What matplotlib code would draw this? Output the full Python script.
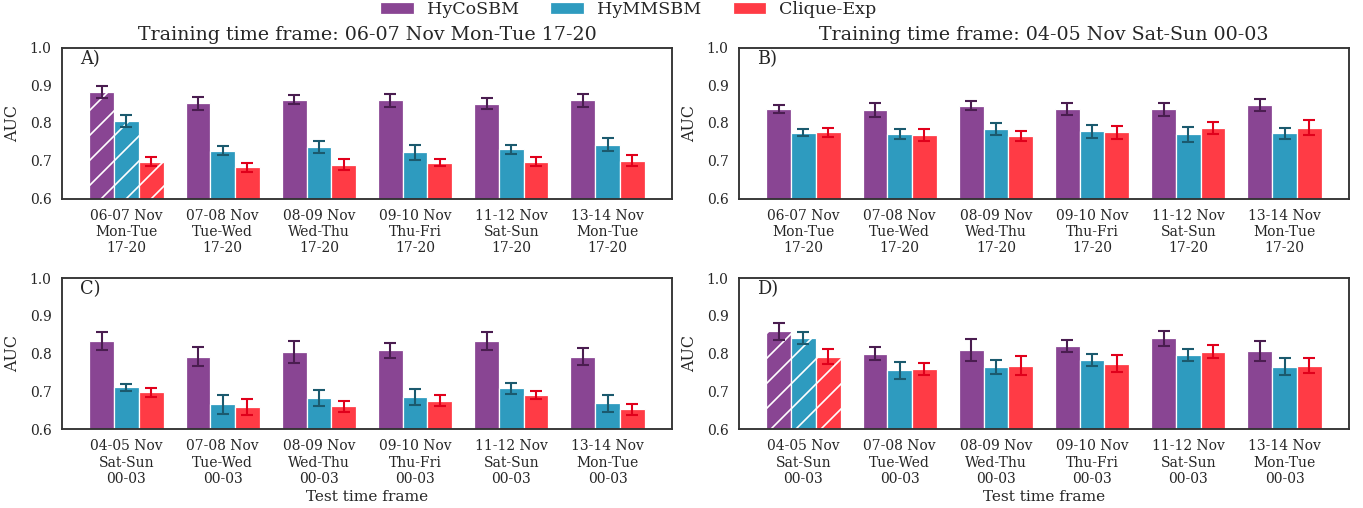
import numpy as np
import matplotlib
matplotlib.use("Agg")
import matplotlib.pyplot as plt
from matplotlib.patches import Patch

# ---- data ----
methods = ["HyCoSBM", "HyMMSBM", "Clique-Exp"]
colors = ["#894593", "#2e9bbf", "#ff3b45"]
err_colors = ["#4a1d50", "#1b5a6e", "#e0001b"]

top_ticks = ["06-07 Nov\nMon-Tue\n17-20", "07-08 Nov\nTue-Wed\n17-20",
             "08-09 Nov\nWed-Thu\n17-20", "09-10 Nov\nThu-Fri\n17-20",
             "11-12 Nov\nSat-Sun\n17-20", "13-14 Nov\nMon-Tue\n17-20"]
bottom_ticks = ["04-05 Nov\nSat-Sun\n00-03", "07-08 Nov\nTue-Wed\n00-03",
                "08-09 Nov\nWed-Thu\n00-03", "09-10 Nov\nThu-Fri\n00-03",
                "11-12 Nov\nSat-Sun\n00-03", "13-14 Nov\nMon-Tue\n00-03"]

# panel A: train 06-07 Nov Mon-Tue 17-20
a_hyco = [0.882, 0.852, 0.862, 0.860, 0.851, 0.860]
a_hymm = [0.805, 0.727, 0.736, 0.722, 0.730, 0.743]
a_clq = [0.698, 0.683, 0.690, 0.695, 0.698, 0.700]
a_hyco_err = [0.015, 0.017, 0.012, 0.018, 0.015, 0.018]
a_hymm_err = [0.016, 0.013, 0.016, 0.020, 0.013, 0.018]
a_clq_err = [0.011, 0.012, 0.014, 0.010, 0.012, 0.015]

# panel B: train 04-05 Nov Sat-Sun 00-03
b_hyco = [0.837, 0.834, 0.846, 0.836, 0.836, 0.848]
b_hymm = [0.774, 0.771, 0.784, 0.778, 0.770, 0.773]
b_clq = [0.776, 0.767, 0.765, 0.775, 0.787, 0.787]
b_hyco_err = [0.010, 0.018, 0.011, 0.016, 0.018, 0.015]
b_hymm_err = [0.009, 0.014, 0.016, 0.018, 0.020, 0.015]
b_clq_err = [0.012, 0.016, 0.013, 0.018, 0.015, 0.020]

# panel C: train 06-07 Nov Mon-Tue 17-20, tested on 00-03
c_hyco = [0.833, 0.792, 0.803, 0.808, 0.833, 0.792]
c_hymm = [0.710, 0.665, 0.682, 0.685, 0.708, 0.668]
c_clq = [0.697, 0.658, 0.660, 0.675, 0.690, 0.652]
c_hyco_err = [0.025, 0.024, 0.029, 0.020, 0.025, 0.022]
c_hymm_err = [0.009, 0.026, 0.020, 0.022, 0.015, 0.022]
c_clq_err = [0.012, 0.021, 0.015, 0.015, 0.010, 0.014]

# panel D: train 04-05 Nov Sat-Sun 00-03, tested on 00-03
d_hyco = [0.859, 0.800, 0.810, 0.820, 0.840, 0.806]
d_hymm = [0.840, 0.755, 0.764, 0.782, 0.797, 0.765]
d_clq = [0.792, 0.758, 0.768, 0.773, 0.805, 0.768]
d_hyco_err = [0.022, 0.017, 0.029, 0.017, 0.020, 0.027]
d_hymm_err = [0.016, 0.022, 0.019, 0.016, 0.016, 0.022]
d_clq_err = [0.020, 0.016, 0.025, 0.022, 0.018, 0.020]

titles = ["Training time frame: 06-07 Nov Mon-Tue 17-20",
          "Training time frame: 04-05 Nov Sat-Sun 00-03"]

panels = [
    ("A)", [a_hyco, a_hymm, a_clq], [a_hyco_err, a_hymm_err, a_clq_err], top_ticks, 0),
    ("B)", [b_hyco, b_hymm, b_clq], [b_hyco_err, b_hymm_err, b_clq_err], top_ticks, None),
    ("C)", [c_hyco, c_hymm, c_clq], [c_hyco_err, c_hymm_err, c_clq_err], bottom_ticks, None),
    ("D)", [d_hyco, d_hymm, d_clq], [d_hyco_err, d_hymm_err, d_clq_err], bottom_ticks, 0),
]

plt.rcParams["font.family"] = "DejaVu Serif"
plt.rcParams["text.color"] = "#262626"
plt.rcParams["axes.labelcolor"] = "#262626"
plt.rcParams["xtick.color"] = "#262626"
plt.rcParams["ytick.color"] = "#262626"
plt.rcParams["hatch.linewidth"] = 0.8

DPI = 150
fig = plt.figure(figsize=(1363 / DPI, 508 / DPI), dpi=DPI)

lefts = [62 / 1363, 739 / 1363]
bottoms = [1 - 198.5 / 508, 1 - 429 / 508]
w, h = 610 / 1363, 151 / 508

x = np.arange(6)
bw = 0.257

for i, (lab, vals, errs, ticks, hatched) in enumerate(panels):
    ax = fig.add_axes([lefts[i % 2], bottoms[i // 2], w, h])
    for k in range(3):
        pos = x + (k - 1) * bw
        bars = ax.bar(pos, vals[k], width=bw, color=colors[k], edgecolor="white",
                      linewidth=0.6, zorder=2)
        if hatched is not None:
            bars[hatched].set_hatch("//")
        ax.errorbar(pos, vals[k], yerr=errs[k], fmt="none", ecolor=err_colors[k],
                    elinewidth=1.0, capsize=3, capthick=1.0, zorder=3)
    ax.set_ylim(0.6, 1.0)
    ax.set_xlim(-0.67, 5.67)
    ax.set_yticks([0.6, 0.7, 0.8, 0.9, 1.0])
    ax.set_xticks(x)
    ax.set_xticklabels(ticks, fontsize=6.7, linespacing=1.2)
    ax.tick_params(axis="y", labelsize=6.7, length=0, pad=5)
    ax.tick_params(axis="x", length=0, pad=5)
    ax.set_ylabel("AUC", fontsize=7.6, labelpad=4)
    for s in ax.spines.values():
        s.set_color("#333333")
        s.set_linewidth(0.9)
    ax.text(0.03, 0.925, lab, transform=ax.transAxes, fontsize=8.5, va="center", ha="left")
    if i < 2:
        ax.set_title(titles[i], fontsize=9.1, pad=3.5)
    else:
        ax.set_xlabel("Test time frame", fontsize=7.4, labelpad=2)

handles = [Patch(facecolor=c, edgecolor="white", linewidth=0.6) for c in colors]
fig.legend(handles, methods, loc="upper center", bbox_to_anchor=(0.461, 0.998), ncol=3,
           frameon=False, fontsize=8.4, handlelength=1.9, handleheight=0.75,
           columnspacing=1.8, handletextpad=0.75, borderpad=0.0, borderaxespad=0.0)

fig.savefig("out.png", dpi=DPI)
